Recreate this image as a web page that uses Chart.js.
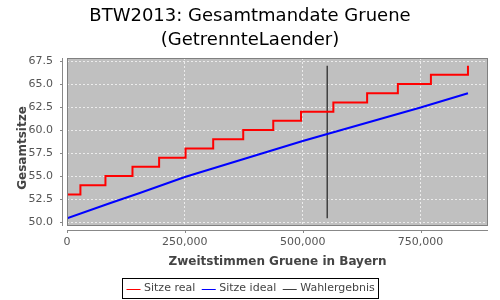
<!DOCTYPE html>
<html>
<head>
<meta charset="utf-8">
<script src="https://cdn.jsdelivr.net/npm/chart.js@4/dist/chart.umd.min.js"></script>
<style>
  html, body { margin: 0; padding: 0; background: #ffffff; }
  #c { display: block; }
</style>
</head>
<body>
<canvas id="c" width="500" height="300"></canvas>
<script>
// ---- data ----
const titleLines = ["BTW2013: Gesamtmandate Gruene", "(GetrennteLaender)"];
const xAxisTitle = "Zweitstimmen Gruene in Bayern";
const yAxisTitle = "Gesamtsitze";
const seriesNames = ["Sitze real", "Sitze ideal", "Wahlergebnis"];

// Sitze real: vote counts where the seat count changes, and the seat counts
const realVotes = [0, 28460, 81560, 138900, 195400, 251500, 310100, 373800, 437500, 496400, 565000, 636600, 701800, 771900, 850500];
const realSeats = [53, 54, 55, 56, 57, 58, 59, 60, 61, 62, 63, 64, 65, 66, 67];

// Sitze ideal: points
const idealVotes = [0, 90700, 154400, 250000, 500000, 750000, 850500];
const idealSeats = [50.4, 52.05, 53.15, 54.9, 58.8, 62.45, 64.0];

// Wahlergebnis: vertical marker
const resultVotes = [552000, 552000];
const resultSeats = [50.4, 67.0];

const xTickValues = [0, 250000, 500000, 750000];
const yTickValues = [50.0, 52.5, 55.0, 57.5, 60.0, 62.5, 65.0, 67.5];
const xRange = [0, 893000];
const yRange = [49.57, 67.83];

const toXY = (xs, ys) => xs.map((x, i) => ({ x: x, y: ys[i] }));
const colors = ["#ff0000", "#0000ff", "#404040"];
const FONT = "'DejaVu Sans', sans-serif";

const decorPlugin = {
  id: 'decor',
  beforeDraw(chart) {
    const { ctx, chartArea: a } = chart;
    ctx.save();
    ctx.fillStyle = '#c0c0c0';
    ctx.fillRect(a.left, a.top, a.right - a.left, a.bottom - a.top);
    ctx.restore();
  },
  afterDraw(chart) {
    const { ctx, chartArea: a } = chart;
    const xs = chart.scales.x, ys = chart.scales.y;
    ctx.save();
    // plot border
    ctx.strokeStyle = '#808080';
    ctx.lineWidth = 1;
    ctx.strokeRect(a.left + 0.5, a.top + 0.5, a.right - a.left - 1, a.bottom - a.top - 1);
    // offset axis lines with tick marks
    ctx.strokeStyle = '#888888';
    const axY = a.bottom + 4.5;
    ctx.beginPath();
    ctx.moveTo(a.left, axY); ctx.lineTo(a.right, axY);
    xTickValues.forEach(v => {
      const px = Math.round(xs.getPixelForValue(v)) + 0.5;
      ctx.moveTo(px, axY); ctx.lineTo(px, axY + 2.5);
    });
    const axX = a.left - 4.5;
    ctx.moveTo(axX, a.top); ctx.lineTo(axX, a.bottom);
    yTickValues.forEach(v => {
      const py = Math.round(ys.getPixelForValue(v)) + 0.5;
      ctx.moveTo(axX, py); ctx.lineTo(axX - 2.5, py);
    });
    ctx.stroke();

    // title
    ctx.fillStyle = '#000000';
    ctx.textAlign = 'center';
    ctx.textBaseline = 'alphabetic';
    ctx.font = "18px " + FONT;
    ctx.fillText(titleLines[0], 250, 21);
    ctx.fillText(titleLines[1], 250, 45);

    // axis titles
    ctx.fillStyle = '#444444';
    ctx.font = "bold 12px " + FONT;
    ctx.textBaseline = 'middle';
    ctx.fillText(xAxisTitle, (a.left + a.right) / 2, 262);
    ctx.save();
    ctx.translate(23, 148);
    ctx.rotate(-Math.PI / 2);
    ctx.fillText(yAxisTitle, 0, 0);
    ctx.restore();

    // legend
    ctx.font = "11px " + FONT;
    const lineLen = 14, gapLT = 3.5, gapItems = 6.5, padX = 4;
    const widths = seriesNames.map(s => ctx.measureText(s).width);
    let total = padX * 2;
    widths.forEach((w, i) => { total += lineLen + gapLT + w + (i < widths.length - 1 ? gapItems : 0); });
    const bx = Math.round(250 - total / 2) + 0.5;
    const by = 278.5, bh = 20;
    ctx.strokeStyle = '#000000';
    ctx.lineWidth = 1;
    ctx.strokeRect(bx, by, Math.round(total), bh);
    let cx = bx + padX;
    const cy = by + bh / 2;
    seriesNames.forEach((s, i) => {
      ctx.strokeStyle = colors[i];
      ctx.beginPath();
      ctx.moveTo(cx, Math.round(cy) + 0.5); ctx.lineTo(cx + lineLen, Math.round(cy) + 0.5);
      ctx.stroke();
      cx += lineLen + gapLT;
      ctx.fillStyle = '#444444';
      ctx.textAlign = 'left';
      ctx.fillText(s, cx, cy);
      cx += widths[i] + gapItems;
    });
    ctx.restore();
  }
};

new Chart(document.getElementById('c'), {
  type: 'line',
  data: {
    datasets: [
      { label: seriesNames[0], data: toXY(realVotes, realSeats), borderColor: colors[0], borderWidth: 2, stepped: true, pointRadius: 0, fill: false },
      { label: seriesNames[1], data: toXY(idealVotes, idealSeats), borderColor: colors[1], borderWidth: 2, pointRadius: 0, fill: false, tension: 0 },
      { label: seriesNames[2], data: toXY(resultVotes, resultSeats), borderColor: colors[2], borderWidth: 1.5, pointRadius: 0, fill: false }
    ]
  },
  options: {
    responsive: false,
    animation: false,
    devicePixelRatio: 1,
    layout: { padding: { left: 0, top: 58, right: 12, bottom: 0 } },
    plugins: { legend: { display: false }, title: { display: false }, tooltip: { enabled: false } },
    scales: {
      x: {
        type: 'linear',
        min: xRange[0], max: xRange[1],
        afterBuildTicks: s => { s.ticks = xTickValues.map(v => ({ value: v })); },
        afterFit: s => { s.height = 74; },
        grid: { color: 'rgba(255,255,255,0.7)', lineWidth: 1, drawTicks: false },
        border: { display: false, dash: [2, 2] },
        ticks: { padding: 10, color: '#555555', font: { family: FONT, size: 11 }, maxRotation: 0,
                 callback: v => v.toLocaleString('en-US') }
      },
      y: {
        type: 'linear',
        min: yRange[0], max: yRange[1],
        afterBuildTicks: s => { s.ticks = yTickValues.map(v => ({ value: v })); },
        afterFit: s => { s.width = 67; },
        grid: { color: 'rgba(255,255,255,0.7)', lineWidth: 1, drawTicks: false },
        border: { display: false, dash: [2, 2] },
        ticks: { padding: 14, color: '#555555', font: { family: FONT, size: 11 },
                 callback: v => v.toFixed(1) }
      }
    }
  },
  plugins: [decorPlugin]
});
</script>
</body>
</html>
